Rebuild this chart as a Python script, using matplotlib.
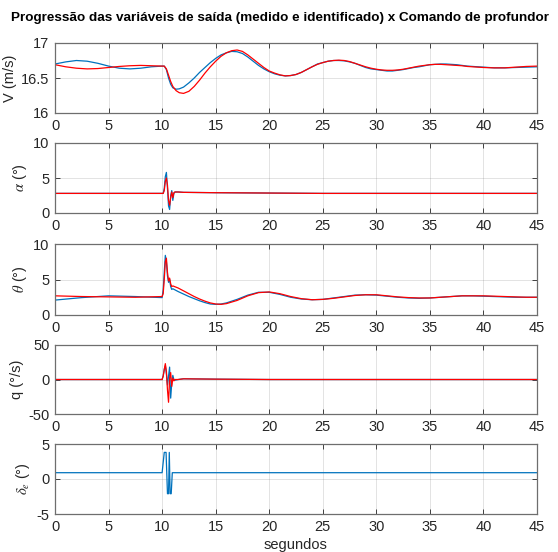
import numpy as np
import matplotlib
matplotlib.use("Agg")
import matplotlib.pyplot as plt

plt.rcParams['font.family'] = ['Liberation Sans', 'DejaVu Sans']
plt.rcParams['mathtext.fontset'] = 'stix'
plt.rcParams['axes.unicode_minus'] = False

# velocidade
t_v = [0, 1, 2, 3, 4, 5, 6, 7, 8, 9, 10, 10.2, 10.4, 10.6, 10.8, 11.0, 11.3, 11.6, 12,
       12.5, 13, 13.5, 14, 14.5, 15, 15.5, 16, 16.5, 17,
       17.5, 18, 18.5, 19, 19.5, 20, 20.5, 21, 21.5, 22,
       22.5, 23, 23.5, 24, 24.5, 25, 25.5, 26, 26.5, 27,
       27.5, 28, 28.5, 29, 29.5, 30, 30.5, 31, 31.5, 32,
       32.5, 33, 33.5, 34, 34.5, 35, 35.5, 36, 36.5, 37,
       37.5, 38, 38.5, 39, 39.5, 40, 41, 42, 43, 44, 45]
v_med = [16.70, 16.73, 16.75, 16.74, 16.71, 16.67, 16.64, 16.63, 16.64, 16.66, 16.67,
         16.67, 16.62, 16.50, 16.41, 16.36, 16.34, 16.345, 16.37,
         16.43, 16.50, 16.58, 16.65, 16.72, 16.78, 16.83, 16.86, 16.88, 16.875,
         16.85, 16.80, 16.74, 16.68, 16.63, 16.59, 16.56, 16.54, 16.53, 16.535,
         16.55, 16.58, 16.62, 16.66, 16.70, 16.72, 16.74, 16.75, 16.75, 16.745,
         16.73, 16.71, 16.68, 16.65, 16.63, 16.62, 16.61, 16.60, 16.60, 16.61,
         16.62, 16.635, 16.65, 16.66, 16.675, 16.69, 16.695, 16.70, 16.70, 16.695,
         16.69, 16.68, 16.67, 16.665, 16.66, 16.655, 16.645, 16.645, 16.65, 16.655, 16.66]
v_id = [16.69, 16.66, 16.64, 16.63, 16.635, 16.65, 16.665, 16.675, 16.68, 16.675, 16.67,
        16.67, 16.63, 16.54, 16.45, 16.38, 16.32, 16.29, 16.28,
        16.31, 16.38, 16.47, 16.57, 16.66, 16.74, 16.81, 16.86, 16.89, 16.90,
        16.88, 16.83, 16.77, 16.71, 16.65, 16.60, 16.57, 16.545, 16.53, 16.535,
        16.55, 16.58, 16.62, 16.66, 16.695, 16.72, 16.74, 16.75, 16.755, 16.75,
        16.735, 16.71, 16.685, 16.66, 16.64, 16.625, 16.615, 16.61, 16.61, 16.615,
        16.625, 16.64, 16.655, 16.67, 16.68, 16.69, 16.695, 16.695, 16.69, 16.685,
        16.68, 16.675, 16.665, 16.66, 16.655, 16.65, 16.645, 16.645, 16.655, 16.665, 16.67]

# alfa
t_a = [0, 10.0, 10.1, 10.2, 10.3, 10.4, 10.5, 10.6, 10.7, 10.8, 10.9, 11.0, 11.1,
       11.2, 11.5, 12, 15, 20, 25, 30, 35, 40, 45]
a_med = [2.8, 2.8, 2.8, 3.5, 5.2, 5.8, 3.5, 1.0, 0.5, 2.5, 3.2, 1.8, 2.8,
         3.0, 3.0, 2.95, 2.9, 2.85, 2.8, 2.8, 2.8, 2.8, 2.8]
a_id = [2.8, 2.8, 2.8, 3.2, 4.5, 5.0, 4.0, 1.8, 1.1, 2.2, 3.0, 2.2, 2.9,
        3.0, 3.0, 2.95, 2.9, 2.85, 2.8, 2.8, 2.8, 2.8, 2.8]

# theta
t_th = [0, 2.5, 5, 7.5, 10, 10.1, 10.2, 10.3, 10.4, 10.5, 10.6, 10.7, 10.8, 10.9, 11,
        11.5, 12, 12.5, 13, 13.5, 14, 14.5, 15, 15.5, 16, 17, 18, 19, 20, 21, 22, 23,
        24, 25, 26, 27, 28, 29, 30, 31, 32, 33, 34, 35, 36, 37, 38, 39, 40, 41, 42,
        43, 44, 45]
th_med = [2.1, 2.45, 2.7, 2.6, 2.45, 3.5, 6.0, 8.4, 7.5, 5.5, 4.6, 5.0, 4.0, 3.6, 3.7,
          3.3, 2.95, 2.6, 2.3, 2.0, 1.75, 1.55, 1.5, 1.55, 1.7, 2.2, 2.8, 3.2, 3.2, 2.9,
          2.5, 2.25, 2.15, 2.2, 2.4, 2.6, 2.8, 2.85, 2.8, 2.65, 2.5, 2.4, 2.35, 2.4,
          2.5, 2.6, 2.7, 2.7, 2.65, 2.6, 2.55, 2.5, 2.5, 2.5]
th_id = [2.7, 2.6, 2.55, 2.5, 2.6, 3.0, 5.0, 7.5, 8.0, 6.0, 4.8, 5.2, 4.4, 4.0, 4.1,
         3.8, 3.4, 3.0, 2.6, 2.25, 1.95, 1.7, 1.55, 1.5, 1.6, 2.05, 2.7, 3.15, 3.25,
         3.0, 2.6, 2.3, 2.15, 2.2, 2.35, 2.55, 2.75, 2.85, 2.85, 2.7, 2.55, 2.45, 2.4,
         2.4, 2.5, 2.6, 2.7, 2.7, 2.7, 2.65, 2.6, 2.55, 2.5, 2.5]

# q
t_q = [0, 10.0, 10.1, 10.2, 10.3, 10.4, 10.5, 10.6, 10.7, 10.8, 10.9, 11.0, 11.1,
       11.2, 11.5, 12, 15, 20, 25, 30, 35, 40, 45]
q_med = [0, 0, 5, 15, 20, 8, -8, 5, 18, -27, -5, 6, 0, -1, 0, 1, 0.5, 0, 0, 0, 0, 0, 0]
q_id = [0, 0, 5, 14, 23, 12, -15, -33, 2, 10, -10, 2, -2, 0, 0, 1, 0.5, 0, 0, 0, 0, 0, 0]

# profundor
t_d = [0, 10.0, 10.2, 10.37, 10.5, 10.6, 10.67, 10.75, 10.85, 10.95, 45]
de = [0.9, 0.9, 3.8, 3.8, -2.1, -2.1, 3.8, -2.1, -2.1, 0.9, 0.9]

azul = '#0072BD'
verm = '#FF0000'
cinza = '#262626'

fig = plt.figure(figsize=(5.58, 5.52), dpi=100)
W, H = 558.0, 552.0
x0, x1 = 55, 537
paineis = [(43, 113), (143, 213), (244, 315), (345, 414), (444, 514)]

series = [
    ([(t_v, v_med, azul), (t_v, v_id, verm)], (16, 17), [16, 16.5, 17], ['16', '16.5', '17'], 'V (m/s)'),
    ([(t_a, a_med, azul), (t_a, a_id, verm)], (0, 10), [0, 5, 10], None, r'$\alpha$ (°)'),
    ([(t_th, th_med, azul), (t_th, th_id, verm)], (0, 10), [0, 5, 10], None, r'$\theta$ (°)'),
    ([(t_q, q_med, azul), (t_q, q_id, verm)], (-50, 50), [-50, 0, 50], None, 'q (°/s)'),
    ([(t_d, de, azul)], (-5, 5), [-5, 0, 5], None, r'$\delta_e$ (°)'),
]

for (top, bot), (linhas, ylim, yt, ytl, ylab) in zip(paineis, series):
    ax = fig.add_axes([x0 / W, 1 - bot / H, (x1 - x0) / W, (bot - top) / H])
    for t, y, c in linhas:
        ax.plot(t, y, color=c, lw=0.9)
    ax.set_xlim(0, 45)
    ax.set_ylim(*ylim)
    ax.set_xticks(range(0, 46, 5))
    ax.set_yticks(yt)
    if ytl:
        ax.set_yticklabels(ytl)
    ax.grid(True, color=cinza, alpha=0.15, lw=0.6)
    ax.tick_params(direction='in', top=True, right=True, length=3.5, width=0.6,
                   labelsize=10.5, colors=cinza, pad=4)
    for s in ax.spines.values():
        s.set_color('#6e6e6e')
        s.set_linewidth(0.9)
    ax.set_ylabel(ylab, fontsize=10.5, color=cinza, labelpad=3)

fig.text(280 / W, 1 - 18 / H,
         'Progressão das variáveis de saída (medido e identificado) x Comando de profundor',
         ha='center', va='center', fontsize=9.7, fontweight='bold', color='black')
fig.text(296 / W, 1 - 545 / H, 'segundos', ha='center', va='center', fontsize=10.5, color=cinza)

fig.savefig('out.png', dpi=100)
